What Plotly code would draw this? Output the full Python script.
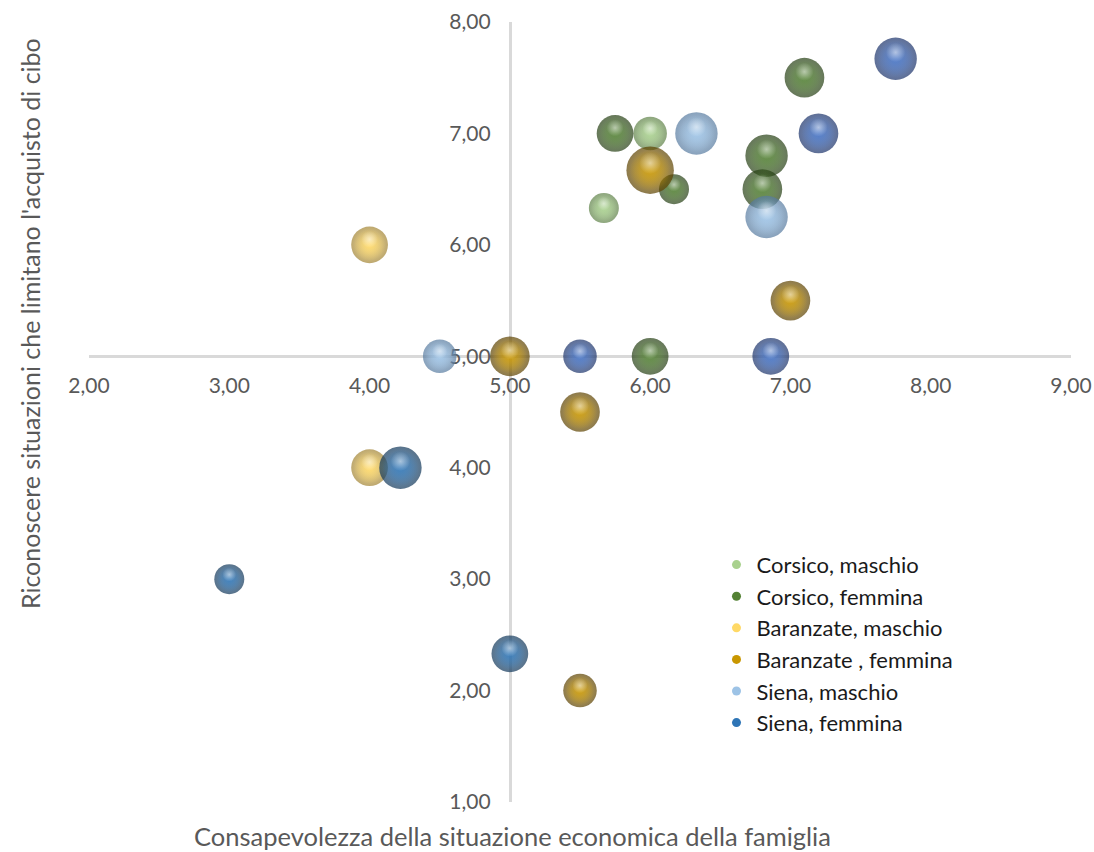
import math
import plotly.graph_objects as go

# ---- data -------------------------------------------------------------
series_names = [
    "Corsico, maschio",
    "Corsico, femmina",
    "Baranzate, maschio",
    "Baranzate , femmina",
    "Siena, maschio",
    "Siena, femmina",
]

corsico_m_x = [6.00, 5.67]
corsico_m_y = [7.00, 6.33]
corsico_m_n = [5, 4]

corsico_f_x = [5.75, 7.10, 6.83, 6.17, 6.80, 6.00]
corsico_f_y = [7.00, 7.50, 6.80, 6.50, 6.50, 5.00]
corsico_f_n = [6, 7, 8, 4, 7, 6]

baranzate_m_x = [4.00, 4.00]
baranzate_m_y = [6.00, 4.00]
baranzate_m_n = [6, 6]

baranzate_f_x = [6.00, 7.00, 5.00, 5.50, 5.50]
baranzate_f_y = [6.67, 5.50, 5.00, 4.50, 2.00]
baranzate_f_n = [10, 7, 7, 7, 5]

siena_m_x = [6.33, 6.83, 4.50]
siena_m_y = [7.00, 6.25, 5.00]
siena_m_n = [8, 8, 5]

siena_f_x = [4.22, 3.00, 5.00]
siena_f_y = [4.00, 3.00, 2.33]
siena_f_n = [8, 4, 6]

# additional series plotted without a legend entry
extra_x = [7.75, 7.20, 5.50, 6.86]
extra_y = [7.67, 7.00, 5.00, 5.00]
extra_n = [8, 7, 5, 6]

x_ticks = [2, 3, 4, 5, 6, 7, 8, 9]
y_ticks = [1, 2, 3, 4, 5, 6, 7, 8]

# ---- styling ----------------------------------------------------------
# (body / legend colour, rim shade)
palette = {
    "Corsico, maschio": ("#A9D18E", "#5C7F45"),
    "Corsico, femmina": ("#548235", "#243D12"),
    "Baranzate, maschio": ("#FFD966", "#A08232"),
    "Baranzate , femmina": ("#C99700", "#5A4000"),
    "Siena, maschio": ("#9DC3E6", "#55799E"),
    "Siena, femmina": ("#2E75B6", "#113658"),
    "extra": ("#4472C4", "#1A3168"),
}

FONT = "Lato"
PX = 15.0                      # sphere diameter = PX * sqrt(n)
SIZEREF = 2.0 / PX ** 2
CORE = 0.86                    # relative diameter of the flat-shaded core
SPOT = 0.46                    # relative diameter of the specular spot
SPOT_LIFT = 0.15               # spot lifted upward, fraction of diameter


def rgba(c, a):
    r, g, b = (int(c[i:i + 2], 16) for i in (1, 3, 5))
    return f"rgba({r},{g},{b},{a})"


fig = go.Figure()


def bubbles(name, xs, ys, ns, key=None):
    body, rim = palette[key or name]
    # sphere: body colour fading linearly to the rim
    fig.add_trace(go.Scatter(
        x=xs, y=ys, mode="markers", name=name, showlegend=False,
        marker=dict(
            size=ns, sizemode="area", sizeref=SIZEREF,
            color=rim, line=dict(width=0),
            gradient=dict(type="radial", color=body),
        ),
    ))
    # translucent core keeps the middle in the body colour
    fig.add_trace(go.Scatter(
        x=xs, y=ys, mode="markers", name=name, showlegend=False,
        hoverinfo="skip",
        marker=dict(
            size=ns, sizemode="area", sizeref=SIZEREF / CORE ** 2,
            color=rgba(body, 0), line=dict(width=0),
            gradient=dict(type="radial", color=rgba(body, 1)),
        ),
    ))
    # specular highlight toward the top of each sphere
    lift = [SPOT_LIFT * PX * math.sqrt(n) for n in ns]
    fig.add_trace(go.Scatter(
        x=xs, y=ys, mode="markers", name=name, showlegend=False,
        hoverinfo="skip",
        marker=dict(
            size=ns, sizemode="area", sizeref=SIZEREF / SPOT ** 2,
            color="rgba(255,255,255,0)", line=dict(width=0),
            gradient=dict(type="radial", color="rgba(255,255,255,0.75)"),
            angle=180, standoff=lift,
        ),
    ))


bubbles(series_names[0], corsico_m_x, corsico_m_y, corsico_m_n)
bubbles(series_names[1], corsico_f_x, corsico_f_y, corsico_f_n)
bubbles(series_names[2], baranzate_m_x, baranzate_m_y, baranzate_m_n)
bubbles(series_names[3], baranzate_f_x, baranzate_f_y, baranzate_f_n)
bubbles(series_names[4], siena_m_x, siena_m_y, siena_m_n)
bubbles(series_names[5], siena_f_x, siena_f_y, siena_f_n)
bubbles("Siena, femmina", extra_x, extra_y, extra_n, key="extra")

# legend entries: small flat dots
for i, nm in enumerate(series_names):
    fig.add_trace(go.Scatter(
        x=[None], y=[None], mode="markers", name=nm,
        legendgroup=f"g{i}", showlegend=True,
        marker=dict(size=9, color=palette[nm][0]),
    ))

axis_common = dict(
    showgrid=False, zeroline=False, showline=True,
    linecolor="#D9D9D9", linewidth=3, ticks="",
    tickformat=".2f", layer="below traces", automargin=False,
    tickfont=dict(family=FONT, size=21, color="#595959"),
)

fig.update_layout(
    width=1094, height=852,
    margin=dict(l=89, r=23, t=22, b=50),
    paper_bgcolor="white", plot_bgcolor="white",
    separators=",.",
    showlegend=True,
    xaxis=dict(range=[2, 9], tickvals=x_ticks, anchor="free",
               position=(5 - 1) / 7, ticklabelstandoff=10, **axis_common),
    yaxis=dict(range=[1, 8], tickvals=y_ticks, anchor="free",
               position=(5 - 2) / 7, ticklabelstandoff=14, **axis_common),
    legend=dict(
        x=0.639, y=0.331, xanchor="left", yanchor="top",
        font=dict(family=FONT, size=22, color="#1A1A1A"),
        bgcolor="rgba(0,0,0,0)", tracegroupgap=0,
    ),
    annotations=[
        dict(text="Consapevolezza della situazione economica della famiglia",
             xref="paper", yref="paper", x=0.4308, y=-0.0436,
             xanchor="center", yanchor="middle", showarrow=False,
             font=dict(family=FONT, size=25.5, color="#595959")),
        dict(text="Riconoscere situazioni che limitano l'acquisto di cibo",
             xref="paper", yref="paper", x=-0.060, y=0.6128,
             xanchor="center", yanchor="middle", showarrow=False,
             textangle=-90,
             font=dict(family=FONT, size=25, color="#595959")),
    ],
)

fig.write_html("out.html")
